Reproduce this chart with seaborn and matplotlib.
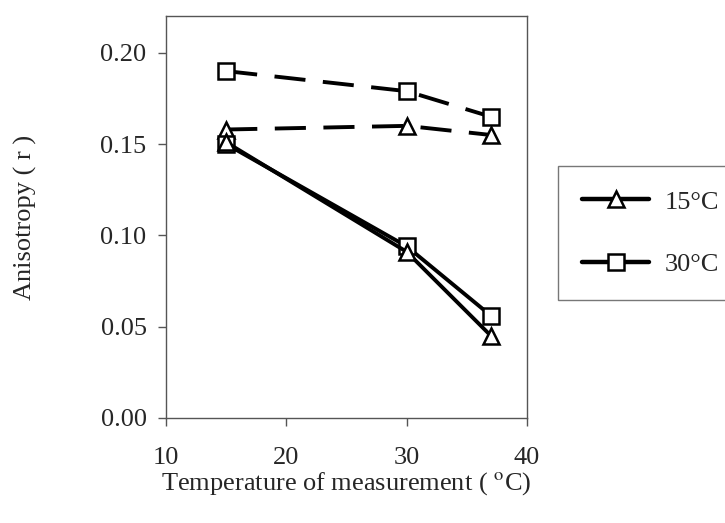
import numpy as np
import pandas as pd
import seaborn as sns
import matplotlib.pyplot as plt
from matplotlib.lines import Line2D

# measurement temperatures (x) and anisotropy readings (y)
temps = [15, 30, 37]
dashed_15 = [0.158, 0.160, 0.155]
dashed_30 = [0.190, 0.179, 0.165]
solid_15 = [0.151, 0.091, 0.045]
solid_30 = [0.150, 0.094, 0.056]
legend_labels = ['15\u00b0C', '30\u00b0C']

sns.set_style('white')
plt.rcParams['font.family'] = ['Liberation Serif', 'DejaVu Serif']
plt.rcParams['mathtext.fontset'] = 'stix'

fig = plt.figure(figsize=(7.25, 5.23), dpi=100)
ax = fig.add_axes([0.229, 0.2008, 0.498, 0.768])

dash = (0, (8, 4.5))
series = [
    (dashed_30, 's', dash),
    (dashed_15, '^', dash),
    (solid_30, 's', '-'),
    (solid_15, '^', '-'),
]
for vals, mk, ls in series:
    df = pd.DataFrame({'temp': temps, 'r': vals})
    sns.lineplot(data=df, x='temp', y='r', ax=ax, color='black', lw=2.8,
                 linestyle=ls, marker=mk, markersize=11, markerfacecolor='white',
                 markeredgecolor='black', markeredgewidth=1.8)

ax.set_xlim(10, 40)
ax.set_ylim(0, 0.22)
ax.set_xticks([10, 20, 30, 40])
ax.set_yticks([0, 0.05, 0.10, 0.15, 0.20])
ax.set_yticklabels(['0.00', '0.05', '0.10', '0.15', '0.20'])
ax.tick_params(axis='both', direction='out', length=6, width=1, color='#555555',
               labelsize=19)
ax.tick_params(axis='x', pad=15)
ax.tick_params(axis='y', pad=8)
ax.xaxis.set_ticks_position('bottom')
ax.yaxis.set_ticks_position('left')
for sp in ax.spines.values():
    sp.set_color('#555555')
    sp.set_linewidth(1)

ax.set_xlabel('Temperature of measurement ( $^{\\mathrm{o}}$C)', fontsize=19, labelpad=1)
ax.set_ylabel('Anisotropy ( r )', fontsize=19, labelpad=46)

handles = [
    Line2D([], [], color='black', lw=3.2, marker='^', markersize=11,
           markerfacecolor='white', markeredgewidth=1.8),
    Line2D([], [], color='black', lw=3.2, marker='s', markersize=11,
           markerfacecolor='white', markeredgewidth=1.8),
]
leg = fig.legend(handles, legend_labels, loc='upper left',
                 bbox_to_anchor=(0.770, 0.682), fontsize=19, frameon=True,
                 fancybox=False, edgecolor='#555555', handlelength=2.55,
                 labelspacing=1.48, borderpad=0.9, handletextpad=0.6,
                 borderaxespad=0)
leg.get_frame().set_linewidth(1)

fig.savefig('out.png', dpi=100)
